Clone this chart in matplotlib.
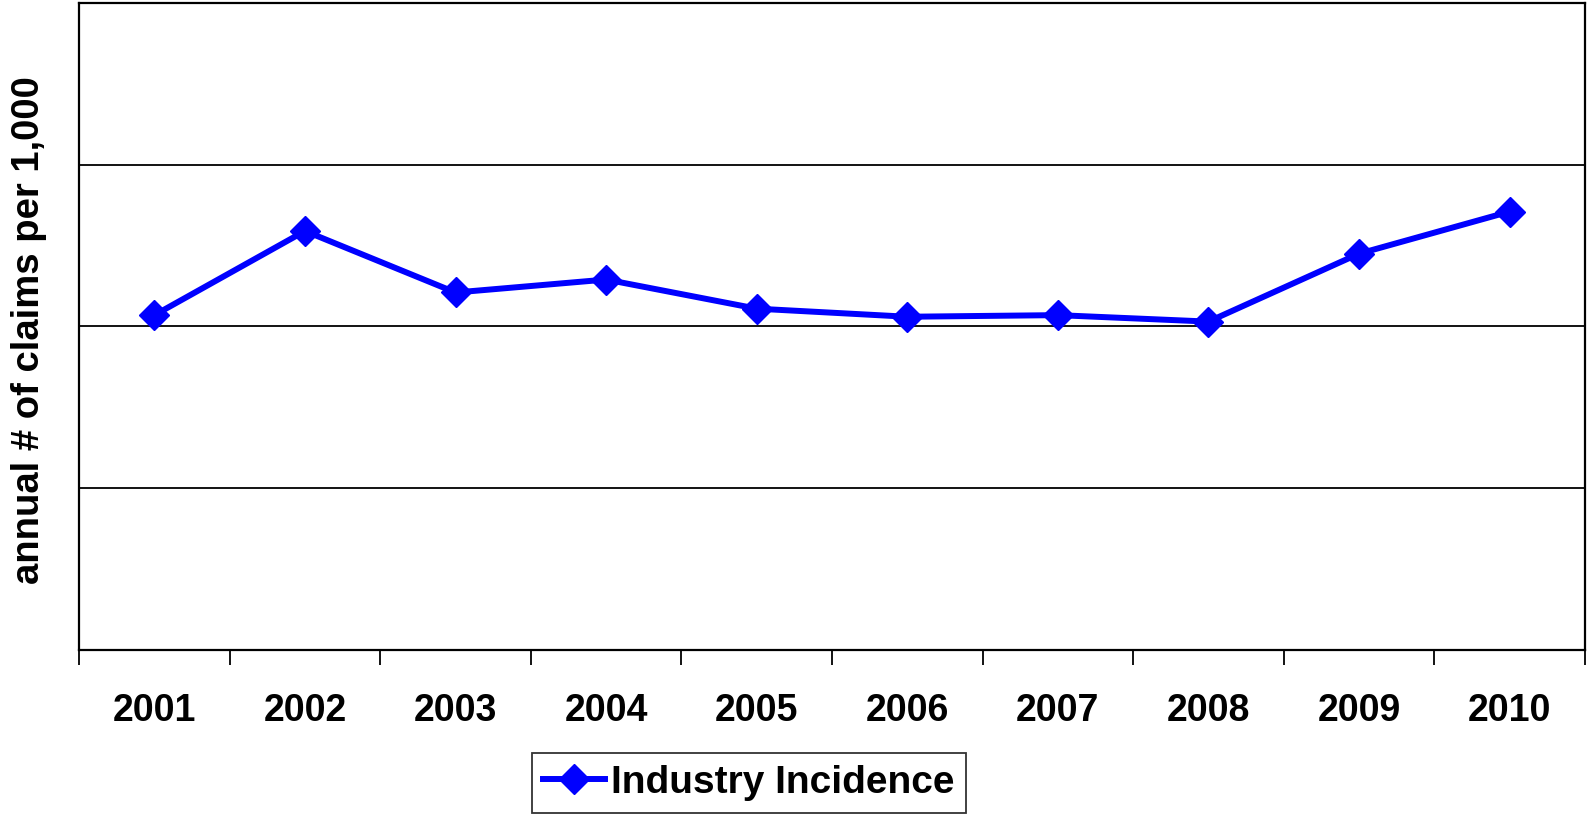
import matplotlib
matplotlib.use("Agg")
import matplotlib.pyplot as plt
from matplotlib.ticker import FixedLocator

years = ["2001", "2002", "2003", "2004", "2005", "2006", "2007", "2008", "2009", "2010"]
incidence = [2.07, 2.59, 2.21, 2.29, 2.11, 2.06, 2.07, 2.03, 2.45, 2.71]

plt.rcParams['font.family'] = ['Liberation Sans', 'DejaVu Sans']
plt.rcParams['font.weight'] = 'bold'

fig = plt.figure(figsize=(15.91, 8.19), dpi=100)
ax = fig.add_axes([0.0497, 0.2064, 0.9465, 0.79])

x = list(range(len(years)))
ax.plot(x, incidence, color='#0000ff', lw=4.3, marker='D', ms=15,
        label='Industry Incidence', zorder=3, solid_joinstyle='miter')

ax.set_xlim(-0.5, len(years) - 0.5)
ax.set_ylim(0, 4)
ax.set_yticks([1, 2, 3])
ax.tick_params(axis='y', length=0, labelleft=False)
ax.grid(axis='y', color='black', lw=1.3)

ax.set_xticks(x)
ax.set_xticklabels(years, fontsize=27, fontweight='bold')
ax.tick_params(axis='x', which='major', length=0, pad=31)
ax.xaxis.set_minor_locator(FixedLocator([i - 0.5 for i in range(len(years) + 1)]))
ax.tick_params(axis='x', which='minor', length=11, width=1.3, direction='out')

for s in ax.spines.values():
    s.set_linewidth(1.6)
    s.set_color('black')

ax.set_ylabel('annual # of claims per 1,000', fontsize=27.5, fontweight='bold')
ax.yaxis.set_label_coords(-0.021, 0.495)

leg = fig.legend(loc='center', bbox_to_anchor=(0.4708, 0.044),
                 frameon=True, fancybox=False, edgecolor='black', handlelength=1.6,
                 borderpad=0.3, borderaxespad=0, handletextpad=0.15,
                 prop={'weight': 'bold', 'size': 28})
leg.get_frame().set_linewidth(1.3)

fig.savefig('out.png', dpi=100, facecolor='white')
